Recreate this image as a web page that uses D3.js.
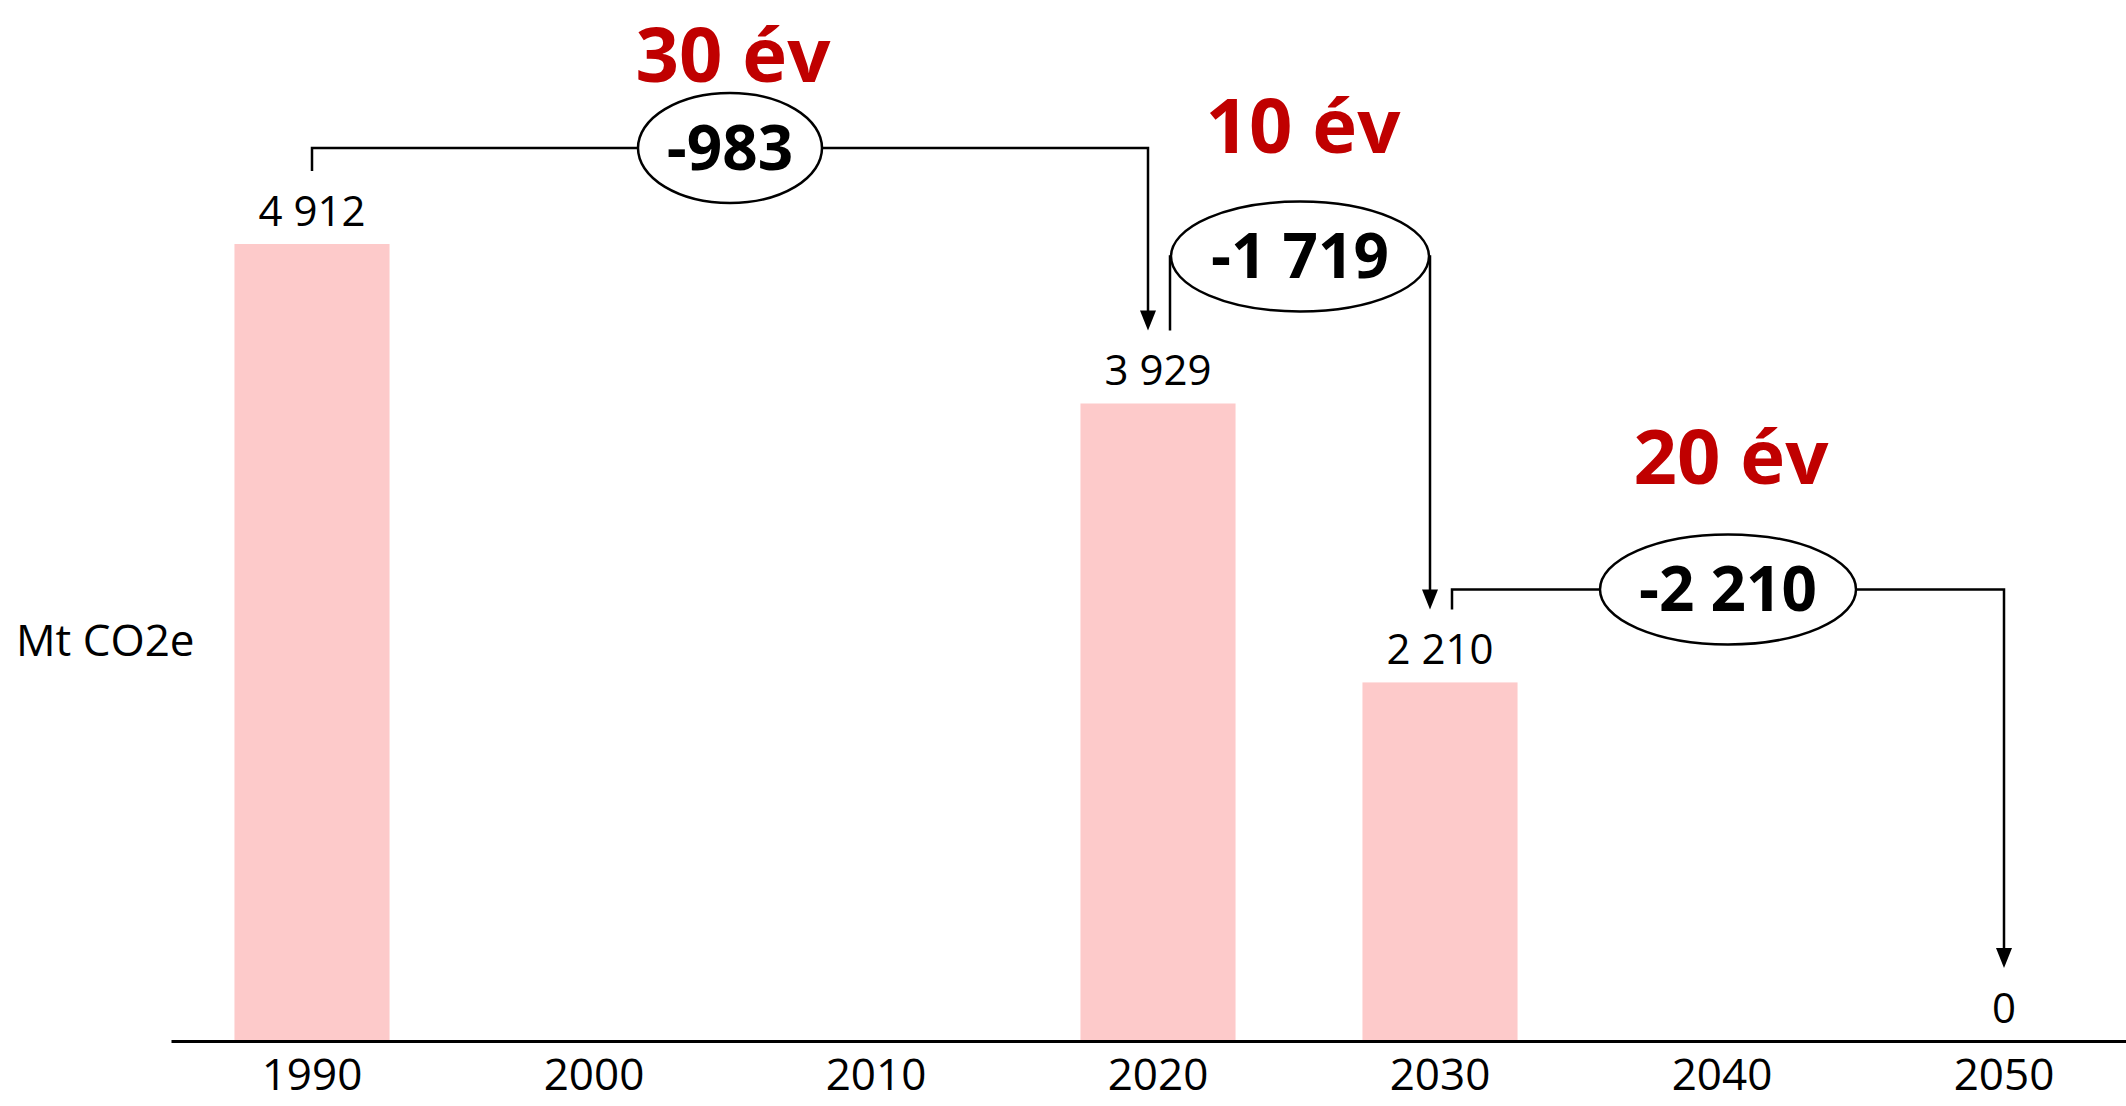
<!DOCTYPE html>
<html>
<head>
<meta charset="utf-8">
<script src="https://cdn.jsdelivr.net/npm/d3@7"></script>
<style>
  body { margin: 0; background: #fff; }
  svg { display: block; font-family: "Open Sans", sans-serif; }
</style>
</head>
<body>
<div id="chart"></div>
<script>
// years on the x axis and emissions (Mt CO2e), null = no bar
const years = ["1990", "2000", "2010", "2020", "2030", "2040", "2050"];
const emissions = [4912, null, null, 3929, 2210, null, 0];

// the three "bridges" between the bars
const bridgeFrom = ["1990", "2020", "2030"];
const bridgeTo = ["2020", "2030", "2050"];
const bridgeChange = [-983, -1719, -2210];
const bridgeSpan = ["30 év", "10 év", "20 év"];

const unitLabel = "Mt CO2e";

// layout for the bridges (pixels)
const bridgeRise = [23, 74, 20];     // horizontal line above start of line
const bubbleRx = [92, 129, 128];
const spanRise = [66, 103, 105];     // red label baseline above bubble center

const width = 2126, height = 1106;
const baseY = 1041;

var svg = d3.select("#chart")
  .append("svg")
  .attr("width", width)
  .attr("height", height);

var x = d3.scaleBand()
  .domain(years)
  .range([171, 171 + 7 * 282])
  .paddingInner(0.45)
  .paddingOuter(0.225);

var y = d3.scaleLinear()
  .domain([0, 4912])
  .range([baseY, 244]);

// hungarian style numbers: space as thousands separator
var huFormat = d3.formatLocale({
  decimal: ",", thousands: "\u00a0", grouping: [3], currency: ["", ""], minus: "-"
}).format(",d");

var data = years.map(function(d, i) { return { year: d, value: emissions[i] }; })
  .filter(function(d) { return d.value !== null; });

function center(year) { return x(year) + x.bandwidth() / 2; }
function valueOf(year) { return emissions[years.indexOf(year)]; }

// bars
svg.selectAll("rect.bar")
  .data(data)
  .enter()
  .append("rect")
  .attr("class", "bar")
  .attr("x", function(d) { return x(d.year); })
  .attr("width", x.bandwidth())
  .attr("y", function(d) { return y(d.value); })
  .attr("height", function(d) { return baseY - y(d.value); })
  .attr("fill", "#fdcaca");

// value labels
svg.selectAll("text.val")
  .data(data)
  .enter()
  .append("text")
  .attr("class", "val")
  .attr("x", function(d) { return center(d.year); })
  .attr("y", function(d) { return y(d.value) - 18; })
  .attr("text-anchor", "middle")
  .attr("font-size", 42)
  .attr("fill", "#000")
  .text(function(d) { return huFormat(d.value); });

// x axis
var axis = svg.append("g")
  .attr("transform", "translate(0," + baseY + ")")
  .call(d3.axisBottom(x).tickSize(0).tickSizeOuter(0).tickPadding(18));
axis.select(".domain").attr("stroke", "#000").attr("stroke-width", 3);
axis.selectAll("text")
  .attr("font-size", 44)
  .attr("font-family", "Open Sans, sans-serif")
  .attr("fill", "#000");

// unit label
svg.append("text")
  .attr("x", 16)
  .attr("y", 656)
  .attr("font-size", 44)
  .attr("fill", "#000")
  .text(unitLabel);

// bridges: line from one bar to the next with a bubble showing the change
var arrowH = 20, arrowW = 8;

bridgeFrom.forEach(function(from, i) {
  var to = bridgeTo[i];
  var hasIncoming = bridgeTo.indexOf(from) >= 0;
  var hasOutgoing = bridgeFrom.indexOf(to) >= 0;

  var x0 = center(from) + (hasIncoming ? 12 : 0);
  var x1 = center(to) - (hasOutgoing ? 10 : 0);
  var yStart = y(valueOf(from)) - 73;
  var yEnd = y(valueOf(to)) - 73;
  var level = yStart - bridgeRise[i];
  var cx = (x0 + x1) / 2;

  svg.append("path")
    .attr("d", "M" + x0 + "," + yStart + "V" + level + "H" + x1 + "V" + (yEnd - arrowH + 1))
    .attr("fill", "none")
    .attr("stroke", "#000")
    .attr("stroke-width", 2.5);

  // arrow head
  svg.append("path")
    .attr("d", "M" + (x1 - arrowW) + "," + (yEnd - arrowH) + "L" + (x1 + arrowW) + "," + (yEnd - arrowH) +
               "L" + x1 + "," + yEnd + "Z")
    .attr("fill", "#000");

  svg.append("ellipse")
    .attr("cx", cx)
    .attr("cy", level)
    .attr("rx", bubbleRx[i])
    .attr("ry", 55)
    .attr("fill", "#fff")
    .attr("stroke", "#000")
    .attr("stroke-width", 2.5);

  svg.append("text")
    .attr("x", cx)
    .attr("y", level + 22)
    .attr("text-anchor", "middle")
    .attr("font-size", 62)
    .attr("font-weight", "bold")
    .attr("fill", "#000")
    .text(huFormat(bridgeChange[i]));

  svg.append("text")
    .attr("x", cx + 3)
    .attr("y", level - spanRise[i])
    .attr("text-anchor", "middle")
    .attr("font-size", 76)
    .attr("font-weight", "bold")
    .attr("fill", "#c00000")
    .text(bridgeSpan[i]);
});
</script>
</body>
</html>
